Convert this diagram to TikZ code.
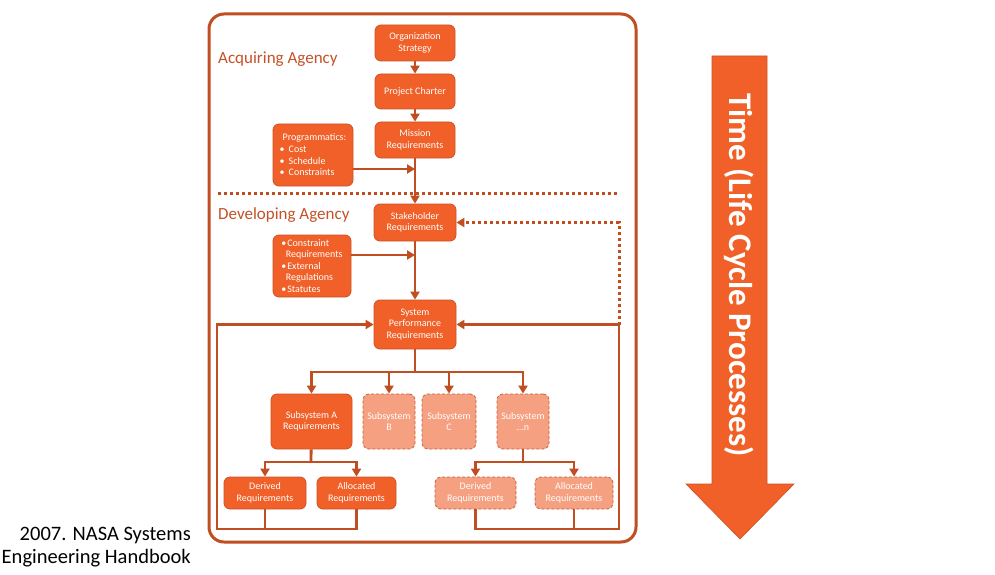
\documentclass[tikz,border=0pt]{standalone}
\usepackage{fontspec}
\setmainfont{Carlito}
\usetikzlibrary{arrows.meta}
\definecolor{boxfill}{RGB}{240,96,40}
\definecolor{boxline}{RGB}{205,82,35}
\definecolor{linec}{RGB}{192,78,32}
\definecolor{lightfill}{RGB}{245,160,128}
\definecolor{lightline}{RGB}{200,95,60}
\definecolor{labelc}{RGB}{196,82,40}
\begin{document}
\begin{tikzpicture}[x=1pt,y=-1pt,
  bx/.style={draw=boxline,fill=boxfill,line width=0.8pt,rounded corners=6pt,
    text=white,inner sep=0pt,align=center,font=\fontsize{10}{11.5}\selectfont},
  lbx/.style={bx,fill=lightfill,draw=lightline,dashed,dash pattern=on 3pt off 2pt},
  conn/.style={draw=linec,line width=2.8pt},
  arr/.style={conn,-{Triangle[length=8pt,width=9pt]}},
  dotl/.style={draw=linec,line width=3pt,dash pattern=on 3pt off 3pt},
  frame/.style={draw=linec,line width=3pt,rounded corners=15pt},
  agency/.style={text=labelc,anchor=west,font=\fontsize{17}{20}\selectfont,inner sep=0pt}]
\useasboundingbox (0,0) rectangle (995,575);
\fill[white] (0,0) rectangle (995,575);

% frame
\draw[frame] (209,14) rectangle (636,542);

% agency labels
\node[agency] (acq) at (218,59) {Acquiring Agency};
\node[agency] (dev) at (218,215) {Developing Agency};

% top column
\node[bx,minimum width=80pt,minimum height=36pt] (org) at (415,43) {Organization\\Strategy};
\node[bx,minimum width=80pt,minimum height=35pt] (pc) at (415,91.5) {Project Charter};
\node[bx,minimum width=80pt,minimum height=36pt] (mr) at (415,140) {Mission\\Requirements};
\node[bx,minimum width=80pt,minimum height=62pt,align=left] (prog) at (313,155)
  {\hspace*{3pt}Programmatics:\\[0.5pt]
   \textbullet\hspace{4pt}Cost\\
   \textbullet\hspace{4pt}Schedule\\
   \textbullet\hspace{4pt}Constraints};
\node[bx,minimum width=82pt,minimum height=37pt] (sh) at (415,222.5) {Stakeholder\\Requirements};
\node[bx,minimum width=78pt,minimum height=62pt,align=left] (cons) at (312,266)
  {\textbullet\hspace{1pt}Constraint\\
   \hspace*{4.5pt}Requirements\\
   \textbullet\hspace{1pt}External\\
   \hspace*{4.5pt}Regulations\\
   \textbullet\hspace{1pt}Statutes};
\node[bx,minimum width=82pt,minimum height=49pt] (sp) at (415,324.5) {System\\Performance\\Requirements};

% subsystems
\node[bx,minimum width=81pt,minimum height=55pt] (sa) at (311.5,421.5) {Subsystem A\\Requirements};
\node[lbx,minimum width=52pt,minimum height=55pt] (sb) at (389,421.5) {Subsystem\\B};
\node[lbx,minimum width=54pt,minimum height=55pt] (sc) at (449,421.5) {Subsystem\\C};
\node[lbx,minimum width=52pt,minimum height=55pt] (sn) at (523,421.5) {Subsystem\\\ldots n};

\node[bx,minimum width=82pt,minimum height=32pt] (da) at (265,493) {Derived\\Requirements};
\node[bx,minimum width=79pt,minimum height=32pt] (aa) at (356.5,493) {Allocated\\Requirements};
\node[lbx,minimum width=81pt,minimum height=32pt] (dn) at (475.5,493) {Derived\\Requirements};
\node[lbx,minimum width=78pt,minimum height=32pt] (an) at (574,493) {Allocated\\Requirements};

% coordinates
\coordinate (bus) at (415,372);
\coordinate (ja) at (311,462);
\coordinate (jn) at (523,462);
\coordinate (LL) at (217,529);
\coordinate (RL) at (619,529);
\coordinate (dl) at (218,193);
\coordinate (dr) at (618,193);

% dotted separator
\draw[dotl] (dl) -- (dr);

% main column arrows
\draw[arr] (org) -- (pc);
\draw[arr] (pc) -- (mr);
\draw[arr] (mr) -- (sh);
\draw[arr] (sh) -- (sp);
\draw[arr] ([yshift=-14pt]prog.east) -- ([yshift=-14pt]prog.east -| sh.north);
\draw[arr] ([yshift=11pt]cons.east) -- ([yshift=11pt]cons.east -| sh.north);

% bus to subsystems
\draw[conn] (sp) -- (bus);
\draw[arr] (bus) -| (sa.north);
\draw[arr] (bus) -| (sn.north);
\draw[arr] (bus -| sb.north) -- (sb.north);
\draw[arr] (bus -| sc.north) -- (sc.north);

% subsystem A children
\draw[conn] (sa) -- (ja);
\draw[arr] (ja) -| (da.north);
\draw[arr] (ja) -| (aa.north);
% subsystem n children
\draw[conn] (sn) -- (jn);
\draw[arr] (jn) -| (dn.north);
\draw[arr] (jn) -| (an.north);

% feedback loops
\draw[arr] (aa.south) |- (LL) |- (sp.west);
\draw[conn] (da.south) -- (da.south |- LL);
\draw[arr] (dn.south) |- (RL) |- (sp.east);
\draw[conn] (an.south) -- (an.south |- RL);
\draw[dotl,-{Triangle[length=8pt,width=9pt]}] (RL |- sp.east) |- (sh.east);

% big time arrow
\draw[fill=boxfill,draw=boxline,line width=0.6pt]
  (712,56) -- (767,56) -- (767,484) -- (794,484) -- (740,539) -- (686,484) -- (712,484) -- cycle;
\node[text=white,rotate=-90,font=\bfseries\fontsize{33}{36}\selectfont,inner sep=0pt] (time) at (739.5,275) {Time (Life Cycle Processes)};

% citation
\node[anchor=east,align=right,inner sep=0pt,font=\fontsize{20.5}{23}\selectfont] (cite) at (191,547)
  {2007. NASA Systems\\Engineering Handbook};
\end{tikzpicture}
\end{document}
